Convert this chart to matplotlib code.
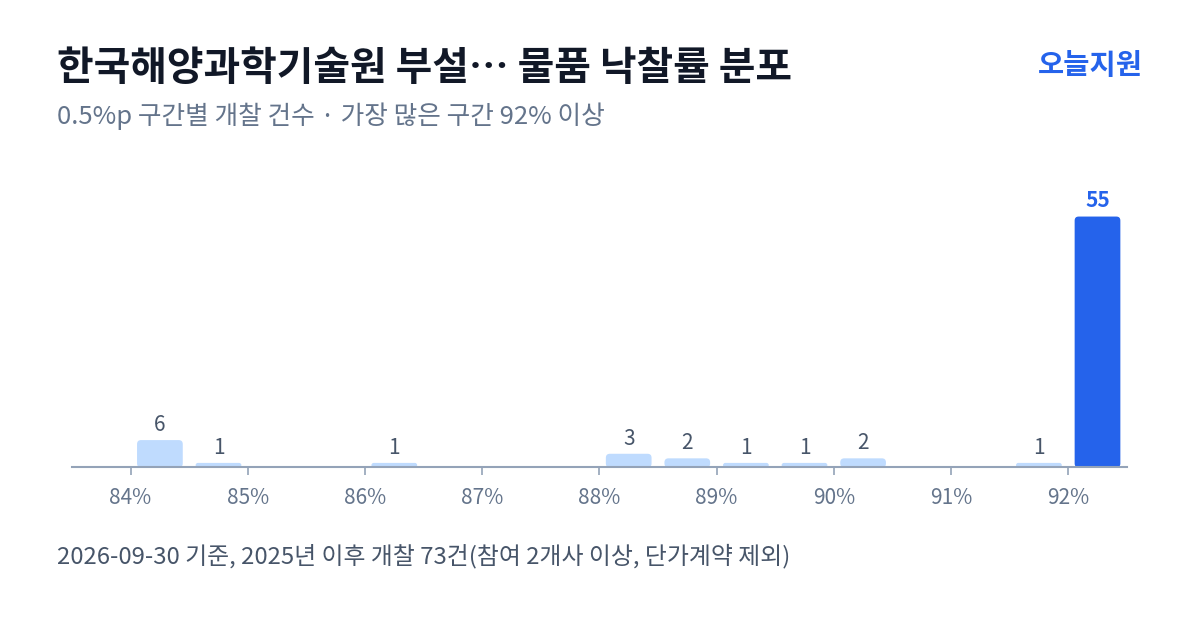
import matplotlib.pyplot as plt
from matplotlib.patches import FancyBboxPatch

plt.rcParams['font.family'] = ['Noto Sans CJK KR', 'DejaVu Sans']

# 0.5%p 구간 시작값과 개찰 건수
bin_start = [84.0, 84.5, 86.0, 88.0, 88.5, 89.0, 89.5, 90.0, 91.5, 92.0]
counts = [6, 1, 1, 3, 2, 1, 1, 2, 1, 55]
tick_vals = [84, 85, 86, 87, 88, 89, 90, 91, 92]
tick_labels = ["84%", "85%", "86%", "87%", "88%", "89%", "90%", "91%", "92%"]

title = "한국해양과학기술원 부설… 물품 낙찰률 분포"
subtitle = "0.5%p 구간별 개찰 건수 · 가장 많은 구간 92% 이상"
footer = "2026-09-30 기준, 2025년 이후 개찰 73건(참여 2개사 이상, 단가계약 제외)"
brand = "오늘지원"

light = "#bfdbfe"
blue = "#2563eb"
top_idx = counts.index(max(counts))

fig = plt.figure(figsize=(12, 6.3), dpi=100)
ax = fig.add_axes([0.06, 0.258, 0.879, 0.42])
ax.set_xlim(83.5, 92.5)
ax.set_ylim(0, 58)

width = 0.39
bars = ax.bar([b + 0.25 for b in bin_start], counts, width=width,
              color=[blue if i == top_idx else light for i in range(len(counts))])

# 둥근 모서리로 교체
px_x = (92.5 - 83.5) / (0.879 * 1200)
px_y = 58 / (0.42 * 630)
for i, rect in enumerate(bars):
    x, y = rect.get_x(), rect.get_y()
    w, h = rect.get_width(), rect.get_height()
    r_px = min(4, h / px_y / 2)
    patch = FancyBboxPatch((x, y), w, h,
                           boxstyle=f"round,pad=0,rounding_size={r_px * px_x}",
                           mutation_aspect=px_y / px_x,
                           facecolor=rect.get_facecolor(), edgecolor="none")
    rect.remove()
    ax.add_patch(patch)
    if i == top_idx:
        ax.annotate(str(counts[i]), (x + w / 2, h), xytext=(0, 4),
                    textcoords="offset points", ha="center", va="bottom",
                    fontsize=15, fontweight="bold", color=blue)
    else:
        ax.annotate(str(counts[i]), (x + w / 2, h), xytext=(0, 3),
                    textcoords="offset points", ha="center", va="bottom",
                    fontsize=15, color="#475569")

for s in ["top", "right", "left"]:
    ax.spines[s].set_visible(False)
ax.spines["bottom"].set_color("#94a3b8")
ax.spines["bottom"].set_linewidth(1.5)
ax.set_yticks([])
ax.set_xticks(tick_vals)
ax.set_xticklabels(tick_labels)
ax.tick_params(axis="x", colors="#94a3b8", length=6, width=1.2, pad=8,
               labelsize=15, labelcolor="#64748b")

fig.text(0.0475, 0.891, title, fontsize=28.7, fontweight="bold", color="#111827",
         ha="left", va="center")
fig.text(0.952, 0.895, brand, fontsize=20.5, fontweight="bold", color=blue,
         ha="right", va="center")
fig.text(0.0475, 0.815, subtitle, fontsize=18.5, color="#64748b",
         ha="left", va="center")
fig.text(0.0475, 0.118, footer, fontsize=17.2, color="#475569",
         ha="left", va="center")

fig.savefig("out.png", dpi=100, facecolor="white")
